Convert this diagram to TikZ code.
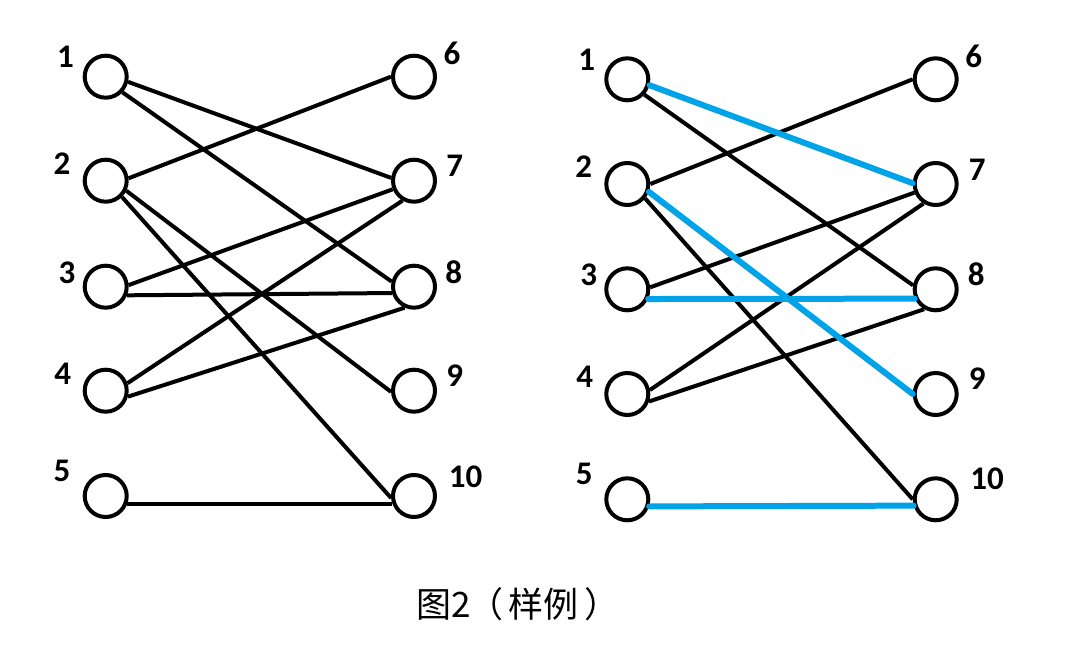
\documentclass[tikz,border=0pt]{standalone}
\usepackage{fontspec}
\setmainfont{Carlito}
\newfontfamily\cjkfont{Noto Sans CJK SC}
\usepackage{tikz}
\usetikzlibrary{positioning,calc}
\definecolor{matchblue}{RGB}{0,162,232}

\begin{document}
\begin{tikzpicture}[
    x=1pt, y=-1pt,
    vtx/.style={draw, circle, line width=4pt, minimum size=42pt, inner sep=0pt},
    lbl/.style={font=\fontsize{33}{35}\selectfont\bfseries, inner sep=0pt},
    edge/.style={line width=4pt},
    match/.style={line width=6pt, matchblue, line cap=round}
]
\useasboundingbox (0,0) rectangle (1088,668);

% left graph
\node[vtx] (a1) at (105.7,76.7) {};
\node[vtx] (a2) at (105.7,180.7) {};
\node[vtx] (a3) at (105.7,286.7) {};
\node[vtx] (a4) at (105.7,390.7) {};
\node[vtx] (a5) at (105.7,496) {};
\node[vtx] (a6) at (414,76.7) {};
\node[vtx] (a7) at (414,180.7) {};
\node[vtx] (a8) at (414,286.7) {};
\node[vtx] (a9) at (414,390.7) {};
\node[vtx] (a10) at (414,496) {};

\node[lbl] (la1) at (65.5,56.3) {1};
\node[lbl] (la2) at (62,163.3) {2};
\node[lbl] (la3) at (67,272.5) {3};
\node[lbl] (la4) at (62.8,373.7) {4};
\node[lbl] (la5) at (62,470.8) {5};
\node[lbl] (la6) at (452,53.3) {6};
\node[lbl] (la7) at (454.7,166.3) {7};
\node[lbl] (la8) at (453.8,272.5) {8};
\node[lbl] (la9) at (454.7,376) {9};
\node[lbl] (la10) at (465.5,476.3) {10};

\draw[edge] (a1.-13) -- (a7.173);
\draw[edge] (a1.-43) -- (a8.167);
\draw[edge] (a2.6) -- (a6.180);
\draw[edge] (a2.-26) -- (a9.183);
\draw[edge] (a2.-45) -- (a10.185);
\draw[edge] (a3.4) -- (a7.202);
\draw[edge] (a3.-22) -- (a8.196);
\draw[edge] (a4.19) -- (a7.240);
\draw[edge] (a4.-15) -- (a8.246);
\draw[edge] (a5.-20) -- (a10.200);

% right graph
\node[vtx] (b1) at (627.3,79.3) {};
\node[vtx] (b2) at (627.3,184) {};
\node[vtx] (b3) at (627.3,289.3) {};
\node[vtx] (b4) at (627.3,394) {};
\node[vtx] (b5) at (627.3,499.3) {};
\node[vtx] (b6) at (935.7,79.3) {};
\node[vtx] (b7) at (935.7,184) {};
\node[vtx] (b8) at (935.7,289.3) {};
\node[vtx] (b9) at (935.7,394) {};
\node[vtx] (b10) at (935.7,499.3) {};

\node[lbl] (lb1) at (586.8,59.3) {1};
\node[lbl] (lb2) at (583.8,166.3) {2};
\node[lbl] (lb3) at (588.8,274.7) {3};
\node[lbl] (lb4) at (584.7,377) {4};
\node[lbl] (lb5) at (584.2,473.7) {5};
\node[lbl] (lb6) at (973.8,56.3) {6};
\node[lbl] (lb7) at (977.2,169.7) {7};
\node[lbl] (lb8) at (976.2,274.7) {8};
\node[lbl] (lb9) at (977.2,378.3) {9};
\node[lbl] (lb10) at (987,478.8) {10};

\draw[edge] (b1.-42) -- (b8.170);
\draw[edge] (b2.0) -- (b6.180);
\draw[edge] (b2.-39) -- (b10.180);
\draw[edge] (b3.5) -- (b7.202);
\draw[edge] (b4.10) -- (b7.238);
\draw[edge] (b4.-19) -- (b8.240);
\draw[match] (b1.-15) -- (b7.178);
\draw[match] (b2.-20) -- (b9.180);
\draw[match] (b3.-25) -- (b8.204);
\draw[match] (b5.-18) -- (b10.196);

% caption
\node[font=\cjkfont\fontsize{35}{37}\selectfont, inner sep=0pt] (cap) at (518,604) {图2\kern-3pt（\kern5pt样例\kern6pt）};
\end{tikzpicture}
\end{document}
